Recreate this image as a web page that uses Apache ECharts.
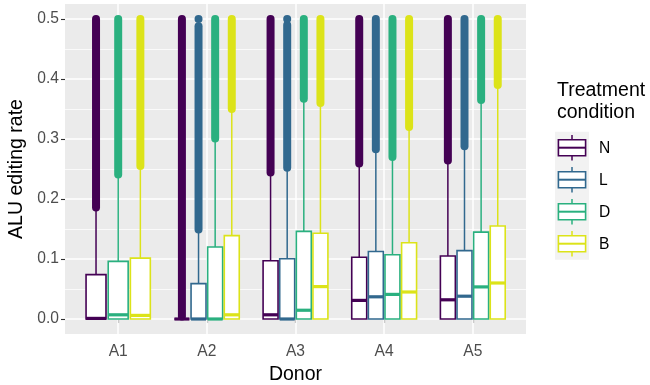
<!DOCTYPE html>
<html>
<head>
<meta charset="utf-8">
<script src="https://cdn.jsdelivr.net/npm/echarts@6/dist/echarts.min.js"></script>
<style>
  html, body { margin: 0; padding: 0; background: #ffffff; }
  #chart { width: 650px; height: 385px; }
</style>
</head>
<body>
<div id="chart"></div>
<script>
// Donors on the x axis and treatment conditions (one box per condition)
const donors = ['A1', 'A2', 'A3', 'A4', 'A5'];
const conditions = ['N', 'L', 'D', 'B'];
const palette = ['#440154', '#31688E', '#2AB07F', '#DCE319'];

// Box statistics per donor: [lowerWhisker, q1, median, q3, upperWhisker]; null = condition not measured
const statsN = [[0, 0, 0.001, 0.074, 0.180], [0, 0, 0, 0, 0], [0, 0, 0.007, 0.097, 0.240], [0, 0, 0.031, 0.103, 0.256], [0, 0, 0.032, 0.105, 0.261]];
const statsL = [null, [0, 0, 0, 0.059, 0.146], [0, 0, 0, 0.1005, 0.249], [0, 0, 0.037, 0.1125, 0.280], [0, 0, 0.038, 0.114, 0.284]];
const statsD = [[0, 0, 0.007, 0.096, 0.236], [0, 0, 0, 0.120, 0.297], [0, 0, 0.0146, 0.146, 0.363], [0, 0, 0.041, 0.107, 0.266], [0, 0, 0.0535, 0.1448, 0.361]];
const statsB = [[0, 0, 0.006, 0.1015, 0.250], [0, 0, 0.007, 0.139, 0.345], [0, 0, 0.054, 0.143, 0.356], [0, 0, 0.045, 0.127, 0.316], [0, 0, 0.060, 0.155, 0.386]];

// Outliers: [lowest, highest] of the densely packed run of points above each whisker
const outN = [[0.186, 0.5], [0.004, 0.5], [0.244, 0.5], [0.259, 0.5], [0.264, 0.5]];
const outL = [null, [0.149, 0.488], [0.252, 0.490], [0.283, 0.5], [0.288, 0.5]];
const outD = [[0.241, 0.5], [0.301, 0.5], [0.367, 0.5], [0.270, 0.5], [0.365, 0.5]];
const outB = [[0.255, 0.5], [0.350, 0.5], [0.360, 0.5], [0.320, 0.5], [0.390, 0.5]];
// Isolated outliers sitting apart from the run
const loneL = [null, 0.5, 0.5, null, null];

// Axis ticks
const yTicks = [0, 0.1, 0.2, 0.3, 0.4, 0.5];
const yMinor = [0.05, 0.15, 0.25, 0.35, 0.45];

const allStats = [statsN, statsL, statsD, statsB];
const allOut = [outN, outL, outD, outB];
const allLone = [null, loneL, null, null];

// Dodge boxes within each donor: only conditions that have data share the slot
const DODGE = 0.75;
function buildSeriesData(ci) {
  const rows = [];
  donors.forEach((d, di) => {
    const present = conditions.map((c, k) => k).filter(k => allStats[k][di]);
    const k = present.indexOf(ci);
    if (k < 0) return;
    const slot = DODGE / present.length;
    const x = di + 1 - DODGE / 2 + slot * (k + 0.5);
    const s = allStats[ci][di];
    const o = allOut[ci][di] || [NaN, NaN];
    const lone = allLone[ci] && allLone[ci][di] != null ? allLone[ci][di] : NaN;
    rows.push([x, s[0], s[1], s[2], s[3], s[4], o[0], o[1], slot * 0.9, lone]);
  });
  return rows;
}

function renderBox(params, api) {
  const color = palette[params.seriesIndex];
  const x = api.value(0);
  const cx = api.coord([x, 0])[0];
  const half = api.size([api.value(8), 0])[0] / 2;
  const py = v => api.coord([x, v])[1];
  const lw = api.value(1), q1 = api.value(2), med = api.value(3), q3 = api.value(4), uw = api.value(5);
  const oLo = api.value(6), oHi = api.value(7), lone = api.value(9);
  const children = [];
  if (!isNaN(oLo)) {
    children.push({
      type: 'line',
      shape: { x1: cx, y1: py(oLo), x2: cx, y2: py(oHi) },
      style: { stroke: color, lineWidth: 8, lineCap: 'round' }
    });
  }
  if (!isNaN(lone)) {
    children.push({ type: 'circle', shape: { cx: cx, cy: py(lone), r: 4 }, style: { fill: color } });
  }
  children.push({
    type: 'line', shape: { x1: cx, y1: py(q3), x2: cx, y2: py(uw) },
    style: { stroke: color, lineWidth: 1.5 }
  });
  children.push({
    type: 'line', shape: { x1: cx, y1: py(lw), x2: cx, y2: py(q1) },
    style: { stroke: color, lineWidth: 1.5 }
  });
  children.push({
    type: 'rect',
    shape: { x: cx - half, y: py(q3), width: half * 2, height: py(q1) - py(q3) },
    style: { fill: '#ffffff', stroke: color, lineWidth: 1.6 }
  });
  children.push({
    type: 'line', shape: { x1: cx - half, y1: py(med), x2: cx + half, y2: py(med) },
    style: { stroke: color, lineWidth: 3.2 }
  });
  return { type: 'group', children: children };
}

const gridLines = [];
yTicks.forEach(v => gridLines.push({ yAxis: v, lineStyle: { width: 1.5 } }));
yMinor.forEach(v => gridLines.push({ yAxis: v, lineStyle: { width: 0.75 } }));
donors.forEach((d, i) => gridLines.push({ xAxis: i + 1, lineStyle: { width: 1.5 } }));

const series = conditions.map((c, ci) => {
  const s = {
    name: c,
    type: 'custom',
    renderItem: renderBox,
    data: buildSeriesData(ci),
    encode: { x: 0, y: [1, 2, 3, 4, 5, 6, 7] },
    clip: false,
    silent: true,
    z: 3
  };
  if (ci === 0) {
    s.markLine = {
      silent: true,
      symbol: 'none',
      z: 1,
      label: { show: false },
      emphasis: { disabled: true },
      animation: false,
      lineStyle: { color: '#ffffff', type: 'solid', width: 1.5 },
      data: gridLines
    };
  }
  return s;
});

const FONT = 'Liberation Sans, Arial, Helvetica, sans-serif';
const TITLE_SIZE = 19.5;
const TEXT_SIZE = 15.6;

// Legend drawn as boxplot keys on a light grey strip
const legendLeft = 555, legendTop = 131.7, keyW = 34, keyH = 32;
const legendChildren = [
  { type: 'text', left: 557, top: 80, style: { text: 'Treatment\ncondition', font: TITLE_SIZE + 'px ' + FONT, fill: '#000000', lineHeight: 22 } },
  { type: 'rect', shape: { x: legendLeft, y: legendTop, width: keyW, height: keyH * conditions.length }, style: { fill: '#F2F2F2' } }
];
conditions.forEach((c, i) => {
  const y0 = legendTop + i * keyH;
  const x0 = legendLeft;
  const cxk = x0 + keyW / 2;
  const stroke = palette[i];
  legendChildren.push(
    { type: 'line', shape: { x1: cxk, y1: y0 + keyH * 0.1, x2: cxk, y2: y0 + keyH * 0.25 }, style: { stroke: stroke, lineWidth: 1.5 } },
    { type: 'line', shape: { x1: cxk, y1: y0 + keyH * 0.75, x2: cxk, y2: y0 + keyH * 0.9 }, style: { stroke: stroke, lineWidth: 1.5 } },
    { type: 'rect', shape: { x: x0 + keyW * 0.1, y: y0 + keyH * 0.25, width: keyW * 0.8, height: keyH * 0.5 }, style: { fill: '#ffffff', stroke: stroke, lineWidth: 1.6 } },
    { type: 'line', shape: { x1: x0 + keyW * 0.1, y1: y0 + keyH * 0.5, x2: x0 + keyW * 0.9, y2: y0 + keyH * 0.5 }, style: { stroke: stroke, lineWidth: 2 } },
    { type: 'text', x: 599, y: y0 + keyH / 2 + 1, style: { text: c, font: TEXT_SIZE + 'px ' + FONT, fill: '#000000', verticalAlign: 'middle', align: 'left' } }
  );
});

const chart = echarts.init(document.getElementById('chart'), null, { renderer: 'canvas' });
chart.setOption({
  animation: false,
  backgroundColor: '#ffffff',
  grid: {
    left: 65, right: 124, top: 4, bottom: 51,
    outerBoundsMode: 'none',
    containLabel: false,
    show: true, backgroundColor: '#EBEBEB', borderWidth: 0
  },
  xAxis: {
    type: 'value',
    min: 0.4, max: 5.6,
    name: 'Donor', nameLocation: 'middle', nameGap: 28,
    nameTextStyle: { fontFamily: FONT, fontSize: TITLE_SIZE, color: '#000000' },
    axisLine: { show: false },
    axisTick: { show: true, length: 4, lineStyle: { color: '#333333', width: 1.1 }, customValues: [1, 2, 3, 4, 5] },
    axisLabel: {
      customValues: [1, 2, 3, 4, 5], margin: 10,
      fontFamily: FONT, fontSize: TEXT_SIZE, color: '#4D4D4D',
      formatter: v => donors[Math.round(v) - 1]
    },
    splitLine: { show: false }
  },
  yAxis: {
    type: 'value',
    min: -0.025, max: 0.525,
    name: 'ALU editing rate', nameLocation: 'middle', nameGap: 35,
    nameTextStyle: { fontFamily: FONT, fontSize: TITLE_SIZE, color: '#000000' },
    axisLine: { show: false },
    axisTick: { show: true, length: 4, lineStyle: { color: '#333333', width: 1.1 }, customValues: yTicks },
    axisLabel: {
      customValues: yTicks, margin: 6,
      fontFamily: FONT, fontSize: TEXT_SIZE, color: '#4D4D4D',
      formatter: v => v.toFixed(1)
    },
    splitLine: { show: false }
  },
  series: series,
  graphic: [{ type: 'group', silent: true, children: legendChildren }]
});
</script>
</body>
</html>
